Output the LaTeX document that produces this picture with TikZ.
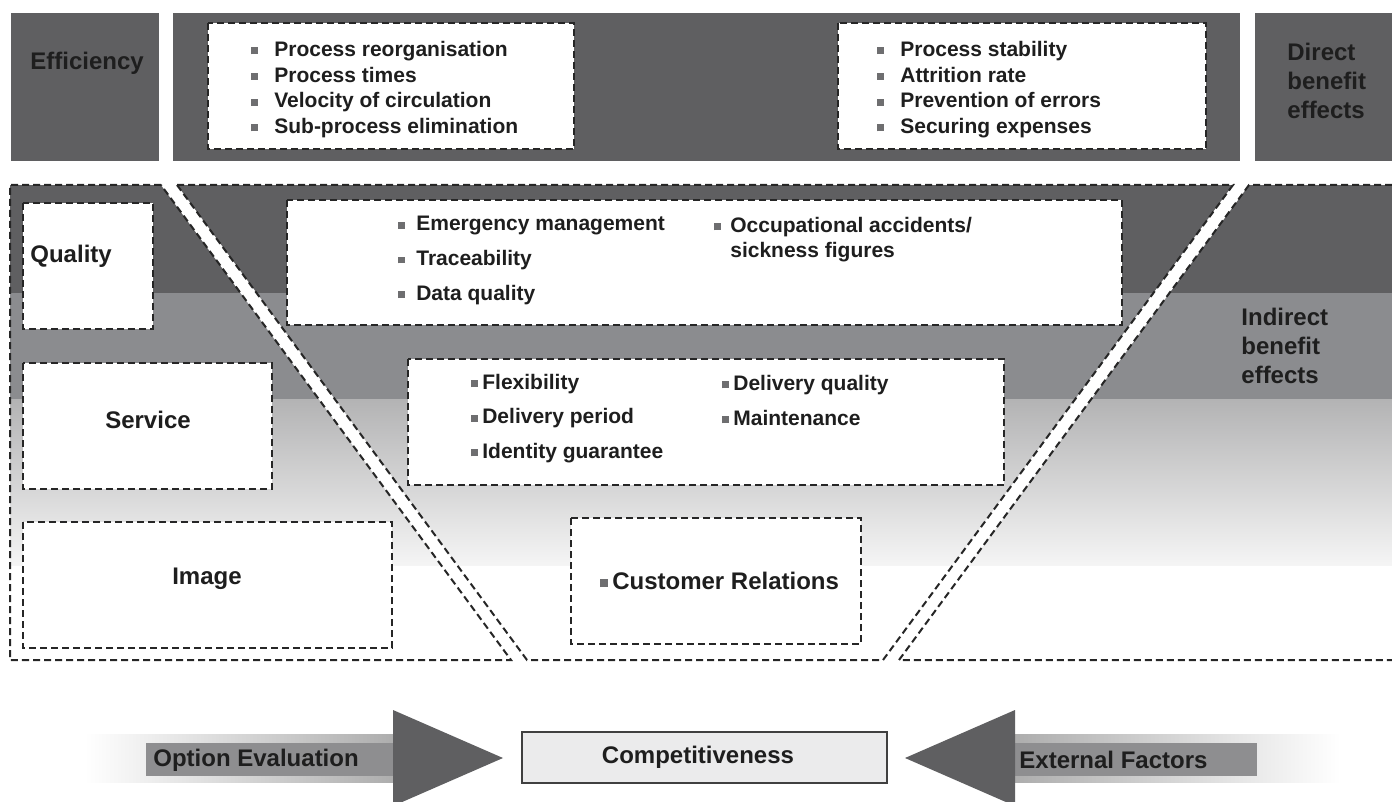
\documentclass[tikz,border=0pt]{standalone}
\usepackage{fontspec}
\setmainfont{Liberation Sans}
\usepackage{tikz}

\definecolor{darkband}{HTML}{5F5F61}
\definecolor{midband}{HTML}{8B8C8F}
\definecolor{lightband}{HTML}{B3B3B4}
\definecolor{bulgray}{HTML}{6E6E70}
\definecolor{txtgray}{HTML}{1E1E1E}
\definecolor{shaftgray}{HTML}{8E8E90}
\definecolor{boxgray}{HTML}{EBEBEC}
\newcommand{\sqb}{\textcolor{bulgray}{\rule[0.1em]{0.33em}{0.33em}}}

\begin{document}
\begin{tikzpicture}[
		x=0.5pt, y=-0.5pt,
		every node/.style={inner sep=0pt, text=txtgray},
		dashline/.style={draw=black!85, line width=1pt, dash pattern=on 3.5pt off 2pt},
		dashbox/.style={dashline, fill=white},
		bigtxt/.style={font=\bfseries\fontsize{12pt}{14.3pt}\selectfont},
		sidetxt/.style={anchor=west, align=left, font=\bfseries\fontsize{12pt}{14.5pt}\selectfont},
		toplist/.style={anchor=west, align=left, font=\bfseries\fontsize{10.5pt}{12.85pt}\selectfont},
		midlist/.style={anchor=west, align=left, font=\bfseries\fontsize{10.5pt}{17.3pt}\selectfont}
	]
  \useasboundingbox (0,0) rectangle (1392,802);
  % direct benefit band
  \fill[darkband] (11,13) rectangle (159,161);
  \fill[darkband] (173,13) rectangle (1240,161);
  \fill[darkband] (1255,13) rectangle (1392,161);
  \draw[dashbox] (208,23) rectangle (574,149);
  \draw[dashbox] (838,23) rectangle (1206,149);
  \node (eff_label) [bigtxt, anchor=west] at (30,63) {Efficiency};
  \node (eff_list_a) [toplist] at (251,89.5) {\sqb\hspace{8pt}Process reorganisation\\\sqb\hspace{8pt}Process times\\\sqb\hspace{8pt}Velocity of circulation\\\sqb\hspace{8pt}Sub-process elimination};
  \node (eff_list_b) [toplist] at (877,89.5) {\sqb\hspace{8pt}Process stability\\\sqb\hspace{8pt}Attrition rate\\\sqb\hspace{8pt}Prevention of errors\\\sqb\hspace{8pt}Securing expenses};
  \node (direct_label) [sidetxt] at (1287,80.5) {Direct\\benefit\\effects};
  % indirect benefit area
  \fill[darkband] (10,185) rectangle (1392,293);
  \fill[midband] (10,293) rectangle (1392,399);
  \shade[top color=lightband, bottom color=white!96!black] (10,399) rectangle (1392,565);
  \fill[white] (161,185) -- (177,185) -- (527,660) -- (511,660) -- cycle;
  \fill[white] (1233,185) -- (1249,185) -- (899,660) -- (883,660) -- cycle;
  \draw[dashline] (161,185) -- (10,185) -- (10,660) -- (511,660) -- cycle;
  \draw[dashline] (177,185) -- (1233,185) -- (883,660) -- (527,660) -- cycle;
  \draw[dashline] (1392,185) -- (1249,185) -- (899,660) -- (1392,660);
  \draw[dashbox] (23,203) rectangle (153,329);
  \draw[dashbox] (287,200) rectangle (1122,325);
  \draw[dashbox] (23,363) rectangle (272,489);
  \draw[dashbox] (408,359) rectangle (1004,485);
  \draw[dashbox] (23,522) rectangle (392,648);
  \draw[dashbox] (571,518) rectangle (861,644);
  \node (quality_label) [bigtxt, anchor=west] at (30,256) {Quality};
  \node (quality_list_a) [midlist] at (398,260.5) {\sqb\hspace{5.5pt}Emergency management\\\sqb\hspace{5.5pt}Traceability\\\sqb\hspace{5.5pt}Data quality};
  \node (quality_list_b) [toplist, font=\bfseries\fontsize{10.5pt}{12.5pt}\selectfont] at (714,239.5) {\sqb\hspace{4.5pt}Occupational accidents/\\\phantom{\sqb}\hspace{4.5pt}sickness figures};
  \node (service_label) [bigtxt] at (148,420) {Service};
  \node (service_list_a) [midlist] at (471,418.5) {\sqb\hspace{2pt}Flexibility\\\sqb\hspace{2pt}Delivery period\\\sqb\hspace{2pt}Identity guarantee};
  \node (service_list_b) [midlist, font=\bfseries\fontsize{10.5pt}{17.5pt}\selectfont] at (722,400.5) {\sqb\hspace{2pt}Delivery quality\\\sqb\hspace{2pt}Maintenance};
  \node (image_label) [bigtxt] at (207,579) {Image};
  \node (customer_label) [bigtxt, anchor=west] at (600,581) {\sqb\hspace{2pt}Customer Relations};
  \node (indirect_label) [sidetxt] at (1241,346) {Indirect\\benefit\\effects};
  % arrows towards competitiveness
  \shade[left color=white, right color=black!32] (85,734) rectangle (393,782);
  \fill[shaftgray] (146,743) rectangle (393,776);
  \fill[darkband] (393,710) -- (503,758) -- (393,806) -- cycle;
  \shade[left color=black!32, right color=white] (1015,734) rectangle (1340,782);
  \fill[shaftgray] (1007,743) rectangle (1257,776);
  \fill[darkband] (1015,710) -- (905,758) -- (1015,806) -- cycle;
  \draw[fill=boxgray, draw=black!75, line width=0.8pt] (522,732) rectangle (887,783);
  \node (option_label) [bigtxt, anchor=west] at (153,760) {Option Evaluation};
  \node (comp_label) [bigtxt] at (698,757) {Competitiveness};
  \node (external_label) [bigtxt, anchor=west] at (1019,760) {External Factors};
\end{tikzpicture}
\end{document}
